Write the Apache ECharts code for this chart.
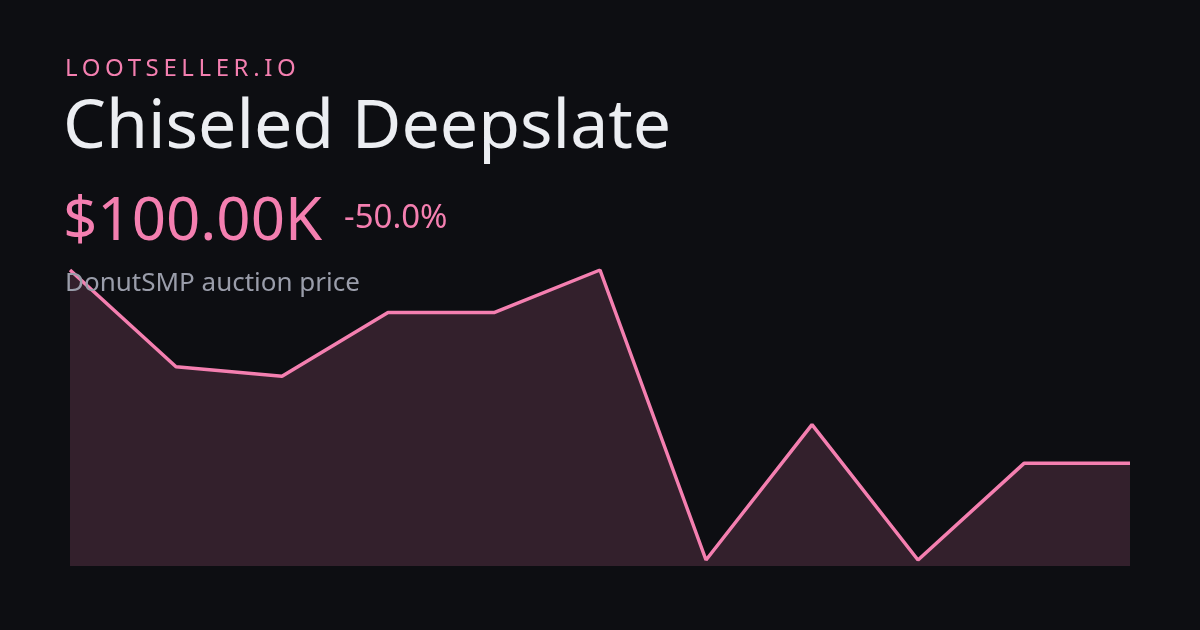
<!DOCTYPE html>
<html>
<head>
<meta charset="utf-8">
<script src="https://cdn.jsdelivr.net/npm/echarts@6/dist/echarts.min.js"></script>
<style>
  html, body { margin: 0; padding: 0; background: #0d0e12; }
  #main { width: 1200px; height: 630px; position: relative; }
  .txt { position: absolute; font-family: "Noto Sans", sans-serif; z-index: 2; white-space: nowrap; line-height: 1; }
</style>
</head>
<body>
<div id="main"></div>
<div class="txt" style="left:65px;top:55px;font-size:24px;letter-spacing:4.6px;color:#f47fb0;">LOOTSELLER.IO</div>
<div class="txt" style="left:63px;top:88px;font-size:68px;color:#eceef2;">Chiseled Deepslate</div>
<div class="txt" style="left:63px;top:187px;font-size:60px;color:#f47fb0;">$100.00K</div>
<div class="txt" style="left:344px;top:199px;font-size:33px;color:#f47fb0;">-50.0%</div>
<div class="txt" style="left:65px;top:268px;font-size:26px;color:#9a9daa;">DonutSMP auction price</div>
<script>
// price points, oldest first (thousands)
var days = ['1', '2', '3', '4', '5', '6', '7', '8', '9', '10', '11'];
var prices = [200, 150, 145, 178, 178, 200, 50, 120, 50, 100, 100];

var myChart = echarts.init(document.getElementById('main'));
var option = {
    backgroundColor: '#0d0e12',
    animation: false,
    grid: { left: 70, right: 70, top: 270, bottom: 64 },
    xAxis: { type: 'category', data: days, boundaryGap: false, show: false },
    yAxis: { type: 'value', min: 46.9, max: 200, show: false },
    series: [{
        type: 'line',
        data: prices,
        showSymbol: false,
        lineStyle: { color: '#f47fb0', width: 3.5 },
        areaStyle: { color: '#33202c', opacity: 1 }
    }]
};
myChart.setOption(option);
</script>
</body>
</html>
